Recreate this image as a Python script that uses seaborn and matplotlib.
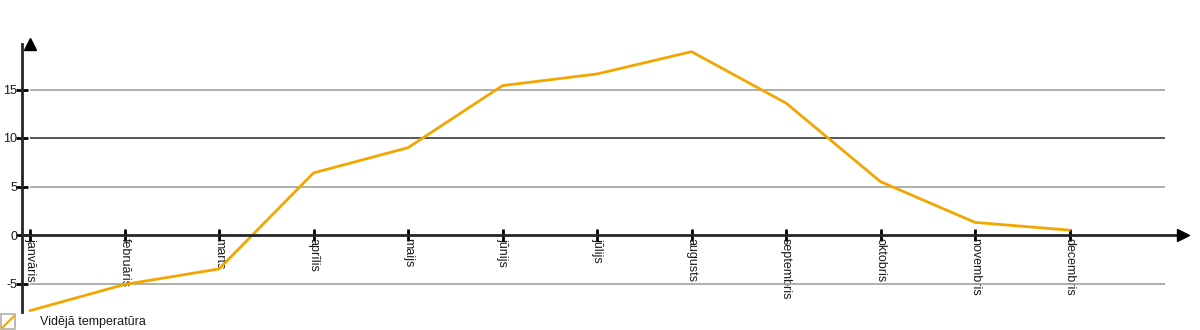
import numpy as np
import pandas as pd
import matplotlib
matplotlib.use("Agg")
import matplotlib.pyplot as plt
import seaborn as sns
from matplotlib.lines import Line2D
from matplotlib.patches import Rectangle

months = ["janvāris", "februāris", "marts", "aprīlis", "maijs", "jūnijs",
          "jūlijs", "augusts", "septembris", "oktobris", "novembris", "decembris"]
temps = [-7.8, -5.1, -3.5, 6.4, 9.0, 15.4, 16.6, 18.9, 13.6, 5.5, 1.3, 0.5]
yticks = [-5, 0, 5, 10, 15]
series_name = "Vidējā temperatūra"

sns.set_style("white")
plt.rcParams['font.family'] = ['Liberation Sans', 'DejaVu Sans']

W, H = 1200, 330
fig = plt.figure(figsize=(W / 100, H / 100), dpi=100)
# axes in pixel coordinates
left, right, top, bottom = 22, 1183, 44, 312
ax = fig.add_axes([left / W, 1 - bottom / H, (right - left) / W, (bottom - top) / H])

df = pd.DataFrame({"pos": np.arange(len(months)), "temp": temps})

px_per_x = 94.5
px_per_y = 9.7
zero_px = 235

# gridlines
grid_colors = {15: "#a4aaa4", 10: "#4a4a4a", 5: "#a4aaa4", -5: "#a4aaa4"}
for yv, c in grid_colors.items():
    ax.plot([0, (1165 - 30) / px_per_x], [yv, yv], color=c, lw=1.3, zorder=1,
            solid_capstyle="butt")

sns.lineplot(data=df, x="pos", y="temp", ax=ax, color="#f4a600", lw=2.0, zorder=3)

ax.set_xlim((left - 30) / px_per_x, (right - 30) / px_per_x)
ax.set_ylim((zero_px - bottom) / px_per_y, (zero_px - top) / px_per_y)

ax.spines["top"].set_visible(False)
ax.spines["right"].set_visible(False)
ax.spines["bottom"].set_position(("data", 0))
ax.spines["bottom"].set_linewidth(2)
ax.spines["left"].set_linewidth(2)
ax.spines["bottom"].set_zorder(4)

ax.set_xticks(np.arange(len(months)))
ax.set_xticklabels(months, rotation=-90, va="top", ha="center", fontsize=9,
                   color="#1a1a1a")
ax.set_yticks(yticks)
ax.set_yticklabels([str(v) for v in yticks], fontsize=9, color="#1a1a1a")
ax.tick_params(axis="x", bottom=True, direction="inout", length=8, width=2, pad=-2,
               color="black")
ax.tick_params(axis="y", left=True, direction="inout", length=9, width=2, pad=-1,
               color="black")
ax.set_xlabel("")
ax.set_ylabel("")

# axis arrows
ax.plot(1, 0, ">k", transform=ax.get_yaxis_transform(), clip_on=False, ms=9, zorder=5)
ax.plot(0, 1, "^k", transform=ax.get_xaxis_transform(), clip_on=False, ms=9, zorder=5)

# legend
fig.add_artist(Rectangle((1 / W, 1 - 329 / H), 14 / W, 15 / H, transform=fig.transFigure,
                         facecolor="white", edgecolor="#b0b0a8", lw=1.2))
fig.add_artist(Line2D([2 / W, 14 / W], [1 - 328 / H, 1 - 316 / H], transform=fig.transFigure,
                      color="#f4a600", lw=1.5))
fig.text(40 / W, 1 - 322 / H, series_name, fontsize=9, va="center", ha="left",
         color="#1a1a1a")

fig.savefig("out.png", dpi=100)
